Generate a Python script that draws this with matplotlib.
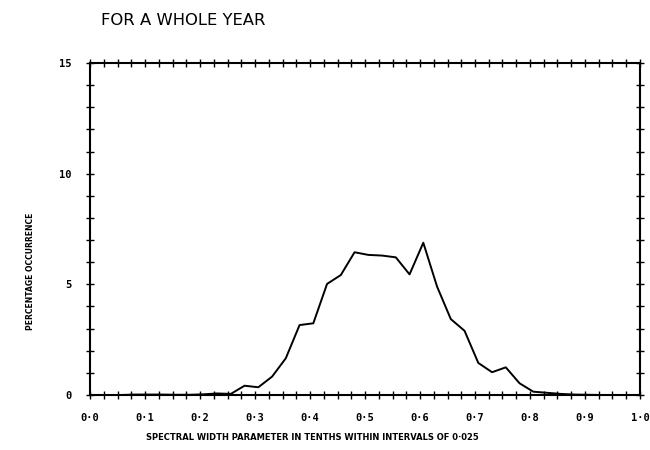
import numpy as np
import matplotlib
matplotlib.use('Agg')
import matplotlib.pyplot as plt
from matplotlib.ticker import MultipleLocator

# spectral width parameter (interval marks)
width = [0.006, 0.031, 0.056, 0.081, 0.106, 0.131, 0.156, 0.181, 0.206, 0.231,
         0.256, 0.281, 0.306, 0.331, 0.356, 0.381, 0.406, 0.431, 0.456, 0.481,
         0.506, 0.531, 0.556, 0.581, 0.606, 0.631, 0.656, 0.681, 0.706, 0.731,
         0.756, 0.781, 0.806, 0.831, 0.856, 0.881, 0.906, 0.931, 0.956, 0.981]
# percentage occurrence
pct = [0.0, 0.0, 0.0, 0.02, 0.02, 0.02, 0.01, 0.01, 0.03, 0.07,
       0.05, 0.42, 0.35, 0.83, 1.66, 3.16, 3.24, 5.02, 5.42, 6.45,
       6.33, 6.30, 6.22, 5.45, 6.88, 4.90, 3.43, 2.90, 1.45, 1.03,
       1.25, 0.53, 0.15, 0.10, 0.05, 0.02, 0.01, 0.0, 0.0, 0.0]

x_ticks = [0.0, 0.1, 0.2, 0.3, 0.4, 0.5, 0.6, 0.7, 0.8, 0.9, 1.0]
x_ticklabels = ['0·0', '0·1', '0·2', '0·3', '0·4', '0·5', '0·6', '0·7', '0·8', '0·9', '1·0']
y_ticks = [0, 5, 10, 15]
y_ticklabels = ['0', '5', '10', '15']

fig = plt.figure(figsize=(6.5, 4.5), dpi=100)
ax = fig.add_axes([0.1385, 0.1222, 0.8461, 0.7378])

ax.plot(width, pct, color='black', linewidth=1.4)

ax.set_xlim(0, 1.0)
ax.set_ylim(0, 15)

ax.set_xticks(x_ticks)
ax.set_xticklabels(x_ticklabels)
ax.xaxis.set_minor_locator(MultipleLocator(0.025))
ax.set_yticks(y_ticks)
ax.set_yticklabels(y_ticklabels)
ax.yaxis.set_minor_locator(MultipleLocator(1))

for s in ax.spines.values():
    s.set_linewidth(1.5)

ax.tick_params(which='both', direction='inout', top=True, right=True,
               length=6, width=1.0, labelsize=7.5)
ax.tick_params(which='major', pad=10)
for lab in ax.get_xticklabels() + ax.get_yticklabels():
    lab.set_fontweight('bold')
    lab.set_fontfamily('DejaVu Sans Mono')

ax.set_xlabel('SPECTRAL WIDTH PARAMETER IN TENTHS WITHIN INTERVALS OF 0·025',
              fontsize=6, fontweight='bold', family='DejaVu Sans Condensed')
ax.set_ylabel('PERCENTAGE OCCURRENCE', fontsize=5.5, fontweight='bold',
              family='DejaVu Sans Condensed')
ax.xaxis.set_label_coords(0.405, -0.115)
ax.yaxis.set_label_coords(-0.1, 0.373)

fig.text(0.155, 0.955, 'FOR A WHOLE YEAR', fontsize=11.8, ha='left', va='center',
         family='DejaVu Sans')

fig.savefig('out.png', dpi=100, facecolor='white')
